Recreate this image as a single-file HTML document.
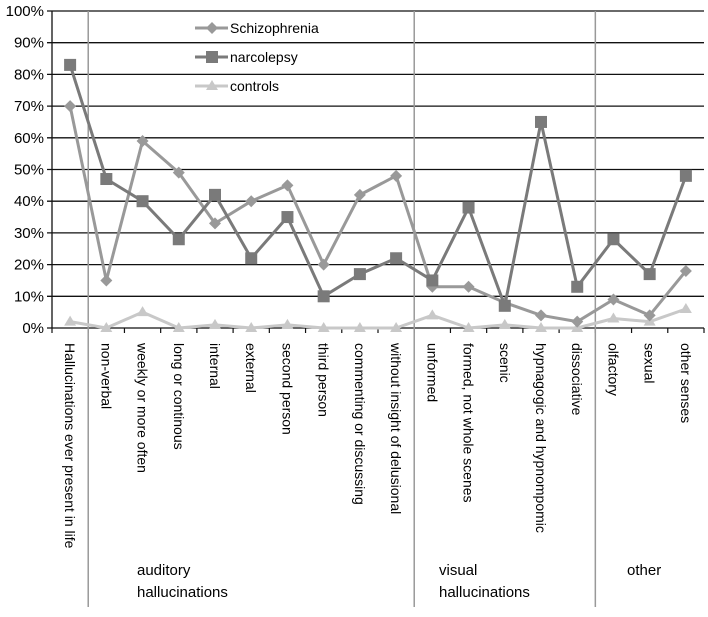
<!DOCTYPE html>
<html><head><meta charset="utf-8"><style>
body{margin:0;background:#fff;}
svg text{font-family:"Liberation Sans",sans-serif;fill:#000;}
</style></head><body>
<svg id="c" width="708" height="612" viewBox="0 0 708 612"></svg>
<script>
const categories=["Hallucinations ever present in life","non-verbal","weekly or more often","long or continous","internal","external","second person","third person","commenting or discussing","without insight of delusional","unformed","formed, not whole scenes","scenic","hypnagogic and hypnompomic","dissociative","olfactory","sexual","other senses"];
const schizophrenia=[70,15,59,49,33,40,45,20,42,48,13,13,8,4,2,9,4,18];
const narcolepsy=[83,47,40,28,42,22,35,10,17,22,15,38,7,65,13,28,17,48];
const controls=[2,0,5,0,1,0,1,0,0,0,4,0,1,0,0,3,2,6];
const yTicks=[0,10,20,30,40,50,60,70,80,90,100];
const groupBreaks=[1,10,15];
const groups=[["auditory","hallucinations",137],["visual","hallucinations",439],["other","",627]];

const NS="http://www.w3.org/2000/svg";
const svg=document.getElementById('c');
const X0=52,X1=704,Y0=328,Y1=11;
const step=(X1-X0)/categories.length;
const x=i=>X0+step*(i+0.5);
const y=v=>Y0-(Y0-Y1)*v/100;
function mk(t,a,p){const e=document.createElementNS(NS,t);for(const k in a)e.setAttribute(k,a[k]);(p||svg).appendChild(e);return e;}

yTicks.forEach(t=>{
  const g=mk('line',{x1:X0-5,x2:X1,y1:y(t),y2:y(t),stroke:'#111','stroke-width':1.3});
  
  
  const l=mk('text',{x:X0-8,y:y(t)+5,'text-anchor':'end','font-size':15});
  l.textContent=t+'%';
  
  
});
mk('line',{x1:X0,x2:X0,y1:Y1,y2:Y0,stroke:'#111','stroke-width':1.3});
for(let i=0;i<=categories.length;i++){
  const tk=mk('line',{x1:X0+step*i,x2:X0+step*i,y1:Y0,y2:Y0+5,stroke:'#111','stroke-width':1.2});
  
  
}
groupBreaks.forEach(b=>{
  const s=mk('line',{x1:X0+step*b,x2:X0+step*b,y1:Y1,y2:607,stroke:'#999','stroke-width':1.5});
  
  
});
categories.forEach((c,i)=>{
  const t=mk('text',{transform:`translate(${x(i)-5},343) rotate(90)`,'font-size':14});
  t.textContent=c;
  
  
});
groups.forEach(g=>{
  const t=mk('text',{x:g[2],y:575,'font-size':15});
  t.textContent=g[0];
  
  
  if(g[1]){const t2=mk('text',{x:g[2],y:597,'font-size':15});t2.textContent=g[1];
  
  }
});
function marker(kind,cx,cy,col,p){
  if(kind==='d')return mk('polygon',{points:`${cx},${cy-6} ${cx+6},${cy} ${cx},${cy+6} ${cx-6},${cy}`,fill:col},p);
  if(kind==='s')return mk('rect',{x:cx-6,y:cy-6,width:12,height:12,fill:col},p);
  return mk('polygon',{points:`${cx},${cy-6} ${cx+6},${cy+4} ${cx-6},${cy+4}`,fill:col},p);
}
const series=[["Schizophrenia",schizophrenia,'#999','d'],["narcolepsy",narcolepsy,'#7a7a7a','s'],["controls",controls,'#c8c8c8','t']];
[series[2],series[0],series[1]].forEach(s=>{
  const g=mk('g',{});
  
  
  mk('polyline',{points:s[1].map((v,i)=>x(i)+','+y(v)).join(' '),fill:'none',stroke:s[2],'stroke-width':3,'stroke-linejoin':'round'},g);
  s[1].forEach((v,i)=>{const m=marker(s[3],x(i),y(v),s[2],g);
    
    });
});
series.forEach((s,k)=>{
  const g=mk('g',{});
  
  
  const ly=28+k*29;
  mk('line',{x1:195,x2:228,y1:ly,y2:ly,stroke:s[2],'stroke-width':3},g);
  marker(s[3],212,ly,s[2],g);
  const t=mk('text',{x:230,y:ly+5,'font-size':14},g);t.textContent=s[0];
});
</script>
</body></html>
